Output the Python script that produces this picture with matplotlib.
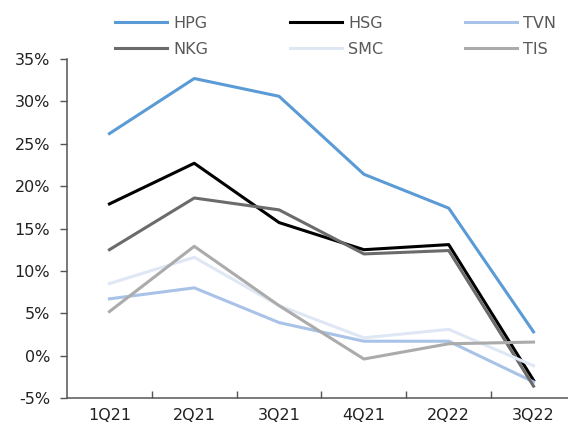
import matplotlib.pyplot as plt
from matplotlib.ticker import FuncFormatter, MultipleLocator, FixedLocator

quarters = ['1Q21', '2Q21', '3Q21', '4Q21', '2Q22', '3Q22']

hpg = [26.2, 32.7, 30.6, 21.4, 17.4, 2.8]
hsg = [17.9, 22.7, 15.7, 12.5, 13.1, -2.9]
tvn = [6.7, 8.0, 3.9, 1.7, 1.7, -3.1]
nkg = [12.5, 18.6, 17.2, 12.0, 12.4, -3.6]
smc = [8.5, 11.6, 5.9, 2.1, 3.1, -1.2]
tis = [5.2, 12.9, 5.9, -0.4, 1.4, 1.6]

series = [
    ('HPG', hpg, '#5b9bd5'),
    ('HSG', hsg, '#000000'),
    ('TVN', tvn, '#a9c2e8'),
    ('NKG', nkg, '#6b6b6b'),
    ('SMC', smc, '#dfe7f5'),
    ('TIS', tis, '#ababab'),
]

plt.rcParams['font.family'] = ['DejaVu Sans']

fig = plt.figure(figsize=(5.68, 4.32), dpi=100)
ax = fig.add_axes([0.118, 0.0787, 0.896, 0.7847])

x = list(range(len(quarters)))
lines = {}
for name, vals, col in series:
    lines[name], = ax.plot(x, vals, color=col, linewidth=2.2, label=name)

ax.set_xlim(-0.5, len(quarters) - 0.5)
ax.set_ylim(-5, 35)
ax.yaxis.set_major_locator(MultipleLocator(5))
ax.yaxis.set_major_formatter(FuncFormatter(lambda v, p: f'{v:.0f}%'))
ax.set_xticks(x)
ax.set_xticklabels(quarters)
ax.xaxis.set_minor_locator(FixedLocator([i + 0.5 for i in range(len(quarters) - 1)]))

ax.tick_params(axis='x', which='major', length=0, pad=7, labelsize=11.5, colors='#222222')
ax.tick_params(axis='x', which='minor', direction='in', length=5, width=1, color='#555555')
ax.tick_params(axis='y', which='major', direction='out', length=5, width=1, color='#555555',
               labelsize=11.5, labelcolor='#222222', pad=7)

for s in ['top', 'right']:
    ax.spines[s].set_visible(False)
for s in ['left', 'bottom']:
    ax.spines[s].set_color('#555555')
    ax.spines[s].set_linewidth(1.1)

order = ['HPG', 'NKG', 'HSG', 'SMC', 'TVN', 'TIS']
leg = fig.legend([lines[n] for n in order], order, ncol=3, loc='upper left',
                 bbox_to_anchor=(0.183, 0.99), frameon=False, fontsize=11.5,
                 handlelength=3.25, handletextpad=0.4, columnspacing=5.1,
                 labelspacing=0.72, borderaxespad=0.3)
for t in leg.get_texts():
    t.set_color('#595959')

fig.savefig('out.png', dpi=100)
